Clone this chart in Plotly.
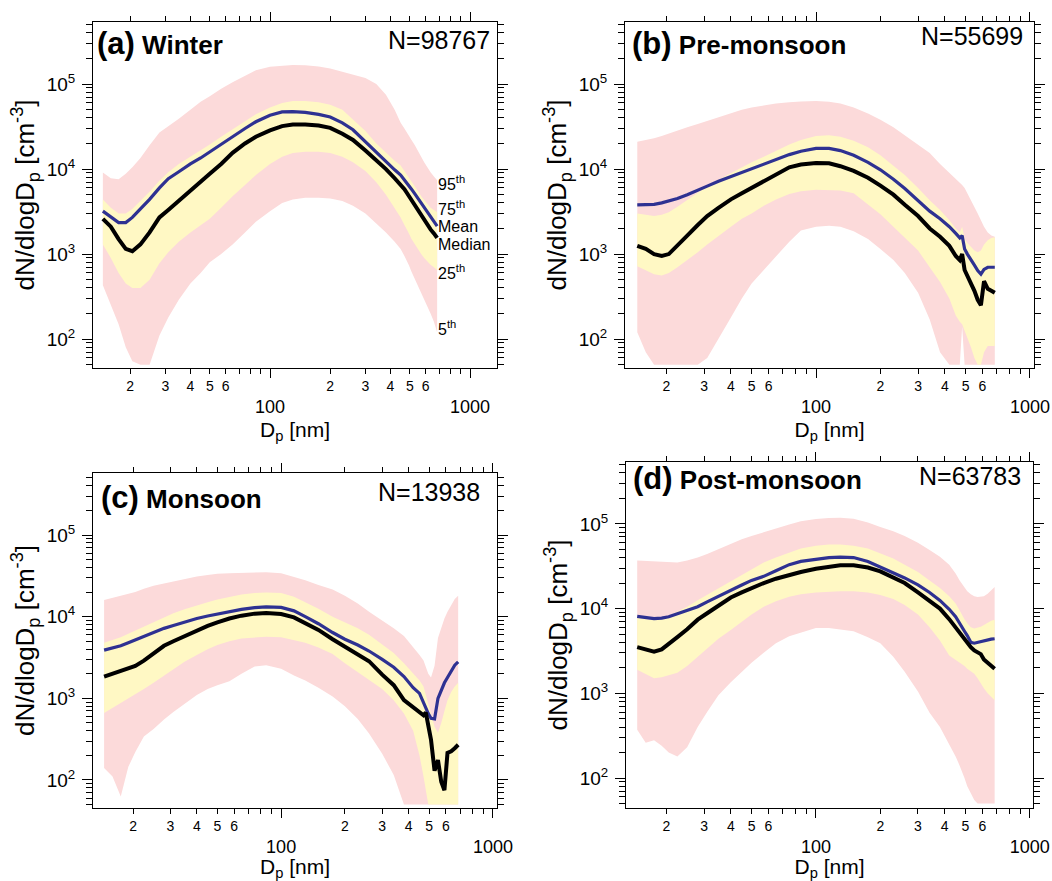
import math
import plotly.graph_objects as go

# ---------------- data ----------------
D_NM = [14.6, 16, 17.5, 19, 20.5, 22.5, 25, 28, 31, 35, 40, 45, 50, 57, 65, 75, 85, 100,
        115, 130, 150, 175, 200, 230, 260, 300, 340, 380, 420, 450, 470, 482, 495, 510,
        530, 550, 570, 590, 610, 635, 660, 685]

# Winter
W_P95 = [9100, 7800, 7600, 8800, 10500, 13500, 19000, 27000, 32000, 39000, 50000, 62000, 72000, 88000,
         105000, 125000, 145000, 160000, 166000, 168000, 166000, 161000, 152000, 140000, 128000, 118000,
         100000, 75000, 50000, 35000, 30000, 27500, 25000, 22000, 19000, 16500, 14000, 12000, 10500, 9200, 8200, 7400]
W_P75 = [4400, 3500, 3000, 3000, 3400, 4200, 5400, 7300, 9200, 11500, 14000, 16500, 19500, 24000, 29500,
         36500, 44000, 53000, 60000, 63000, 63000, 61000, 57000, 50000, 38000, 28000, 20000, 15500, 12500,
         11000, 9500, 8800, 8000, 7100, 6200, 5500, 4800, 4300, 3900, 3500, 3300, 3100]
W_MEAN = [3200, 2700, 2350, 2350, 2700, 3400, 4400, 6000, 7700, 9300, 11500, 13500, 16000, 19500, 24000,
          30000, 36000, 43000, 47000, 47500, 46500, 44000, 41000, 35000, 29000, 21000, 15500, 12000, 9800,
          8500, 7500, 7000, 6400, 5800, 5100, 4500, 4000, 3500, 3100, 2700, 2400, 2130]
W_MED = [2600, 2100, 1500, 1150, 1080, 1300, 1800, 2700, 3300, 4200, 5500, 7000, 8800, 11500, 15500, 20000,
         24000, 28500, 32000, 33500, 33500, 32500, 30500, 26000, 22000, 16500, 12800, 10000, 7800, 6600, 5800,
         5300, 4800, 4300, 3700, 3300, 2900, 2500, 2200, 1950, 1750, 1550]
W_P25 = [1300, 900, 600, 450, 400, 400, 500, 780, 1050, 1400, 1800, 2200, 2600, 3500, 4800, 6500, 8500,
         11500, 14000, 15500, 16000, 16000, 15500, 14000, 12000, 9500, 7000, 5000, 3500, 2700, 2200, 2000,
         1750, 1500, 1300, 1120, 1000, 900, 820, 750, 700, 650]
W_P5 = [430, 250, 150, 80, 55, 50, 50, 110, 180, 290, 450, 600, 800, 1000, 1300, 1800, 2400, 3200, 4000,
        4400, 4600, 4600, 4500, 4200, 3700, 3000, 2300, 1800, 1400, 1150, 950, 850, 740, 620, 510, 420, 360,
        300, 250, 200, 160, 120]

# Pre-monsoon
P_P95 = [21000, 22000, 23000, 24500, 26000, 28500, 31000, 34000, 37000, 41000, 46000, 50000, 53000, 56000,
         59000, 61000, 62500, 63000, 62000, 59000, 53000, 45000, 38000, 31000, 25000, 19500, 15500, 11500,
         9000, 7800, 7000, 6500, 6000, 5200, 4400, 3600, 3000, 2500, 2100, 1800, 1650, 1600]
P_P75 = [3000, 2900, 2800, 2900, 3100, 3600, 4300, 5300, 6300, 7500, 9000, 10500, 12000, 14000, 16500,
         19500, 22000, 24500, 25000, 24000, 21500, 18000, 14500, 11000, 8500, 6000, 4300, 3300, 2500, 2000,
         1800, 2100, 1500, 1350, 1200, 1100, 1050, 1100, 1300, 1450, 1550, 1580]
P_MEAN = [3800, 3800, 3850, 4000, 4200, 4500, 5000, 5700, 6300, 7200, 8200, 9200, 10200, 11500, 13000,
          14800, 16200, 17500, 17500, 16500, 14500, 12000, 9800, 7600, 5900, 4300, 3200, 2600, 2100, 1750,
          1550, 1650, 1150, 1000, 870, 740, 640, 580, 660, 700, 700, 700]
P_MED = [1250, 1150, 1000, 950, 1000, 1250, 1650, 2200, 2800, 3500, 4400, 5200, 6000, 7300, 8800, 10500,
         11300, 11800, 11700, 10800, 9500, 7900, 6400, 5000, 3800, 2800, 2000, 1600, 1250, 950, 850, 1000,
         650, 560, 460, 370, 290, 250, 480, 390, 370, 350]
P_P25 = [720, 650, 580, 560, 600, 700, 850, 1050, 1300, 1650, 2100, 2600, 3000, 3700, 4400, 5100, 5500,
         5700, 5700, 5600, 5200, 3800, 2950, 2100, 1550, 1100, 700, 470, 300, 190, 160, 150, 125, 105, 80,
         60, 50, 50, 70, 83, 83, 83]
P_P5 = [120, 70, 50, 50, 50, 50, 50, 50, 60, 100, 180, 300, 450, 650, 950, 1400, 1900, 2100, 2150, 2100,
        1850, 1500, 1150, 850, 600, 350, 170, 70, 50, 50, 50, 140, 50, 50, 50, 50, 50, 50, 50, 50, 50, 50]

# Monsoon
M_P95 = [16000, 17000, 18000, 19000, 20000, 22000, 24000, 25500, 27000, 29000, 31000, 32500, 33500, 34000,
         34500, 35000, 35000, 34000, 31000, 28000, 24500, 21500, 18000, 14500, 11500, 9000, 7200, 5800, 4300,
         3400, 2900, 2400, 2000, 1800, 2500, 5500, 7500, 9500, 11500, 14000, 16500, 18000]
M_P75 = [4800, 5200, 5600, 6200, 6800, 7600, 8600, 9800, 11000, 12300, 13800, 15000, 16200, 17500, 18700,
         19500, 19800, 19500, 17500, 15000, 12500, 10000, 8500, 7200, 6000, 4600, 3600, 2700, 2000, 1650,
         1400, 1100, 850, 650, 450, 380, 500, 700, 950, 1200, 1400, 1550]
M_MEAN = [3900, 4100, 4400, 4800, 5200, 5800, 6500, 7200, 7800, 8600, 9500, 10200, 10800, 11600, 12300,
          12900, 13200, 13000, 11800, 10000, 8200, 6400, 5300, 4500, 3800, 3000, 2400, 1850, 1350, 1150,
          900, 740, 650, 570, 560, 1000, 1250, 1550, 1800, 2150, 2550, 2800]
M_MED = [1850, 2000, 2200, 2350, 2500, 2900, 3500, 4400, 5000, 5800, 6800, 7700, 8500, 9500, 10300, 10900,
         11100, 10800, 9800, 8300, 6900, 5300, 4300, 3500, 2850, 1950, 1450, 950, 780, 680, 620, 670, 450,
         310, 130, 175, 95, 75, 215, 225, 245, 270]
M_P25 = [660, 760, 880, 980, 1100, 1300, 1550, 1900, 2300, 2800, 3400, 4000, 4500, 5000, 5400, 5600, 5700,
         5600, 5200, 4800, 4200, 3500, 2700, 2100, 1700, 1300, 950, 650, 400, 200, 110, 70, 50, 50, 50, 50,
         50, 50, 50, 50, 50, 50]
M_P5 = [140, 110, 63, 145, 220, 340, 420, 550, 680, 850, 1100, 1300, 1450, 1620, 2000, 2450, 2550, 2300,
        1900, 1650, 1350, 1050, 800, 560, 370, 210, 115, 50, 50, 50, 50, 50, 50, 50, 50, 50, 50, 50, 50, 50,
        50, 50]

# Post-monsoon
Q_P95 = [37000, 36500, 36000, 36000, 35500, 35000, 37000, 40000, 44000, 50000, 58000, 66000, 72000, 80000,
         88000, 98000, 107000, 114000, 117000, 118000, 115000, 104000, 92000, 82000, 72000, 60000, 49000,
         41000, 33000, 26000, 21500, 19500, 17500, 16000, 14800, 14000, 13700, 13800, 14000, 15000, 16500, 18000]
Q_P75 = [7800, 7500, 7400, 7600, 8200, 9200, 10500, 12500, 14500, 17500, 21000, 25000, 29000, 35000, 40000,
         46000, 51000, 55000, 57000, 57000, 55000, 51000, 45000, 39000, 33000, 27000, 21500, 17500, 14000,
         11500, 9500, 8400, 7500, 6700, 6000, 5800, 5900, 6100, 6400, 6800, 7200, 7400]
Q_MEAN = [8100, 7800, 7600, 7700, 8000, 8700, 9500, 10500, 12000, 14000, 16600, 19000, 21500, 24000, 28000,
          33000, 36000, 38500, 40000, 40500, 40000, 36000, 31000, 27000, 23000, 19000, 15500, 12500, 9800,
          8000, 6800, 6000, 5400, 4800, 4000, 3900, 4000, 4100, 4200, 4300, 4350, 4400]
Q_MED = [3500, 3300, 3100, 3300, 3800, 4600, 5700, 7400, 8800, 10800, 13500, 15500, 17500, 20000, 22500,
         25000, 27000, 29500, 31000, 32500, 32500, 30500, 27500, 23500, 20000, 15500, 12500, 10000, 7500,
         6000, 5200, 4700, 4400, 3900, 3500, 3200, 3000, 2900, 2500, 2300, 2100, 1950]
Q_P25 = [1900, 1700, 1500, 1550, 1650, 1750, 2100, 2700, 3400, 4400, 5600, 7000, 8500, 10500, 12200, 13800,
         14800, 15500, 15800, 16000, 16000, 15500, 14500, 13000, 11000, 8500, 6000, 4200, 2800, 2500, 2300,
         2200, 2100, 1950, 1800, 1700, 1500, 1300, 1150, 1000, 900, 830]
Q_P5 = [370, 260, 280, 240, 200, 180, 230, 400, 600, 950, 1350, 1800, 2300, 3000, 3900, 4700, 5200, 5900,
        5900, 5700, 5400, 4600, 3900, 2700, 1800, 1050, 590, 400, 250, 180, 140, 120, 100, 80, 65, 55, 50,
        50, 50, 50, 50, 50]

PANEL_LETTERS = ["(a)", "(b)", "(c)", "(d)"]
SEASONS = ["Winter", "Pre-monsoon", "Monsoon", "Post-monsoon"]
N_COUNTS = ["N=98767", "N=55699", "N=13938", "N=63783"]
PCT_LABELS = ["95<sup>th</sup>", "75<sup>th</sup>", "Mean", "Median", "25<sup>th</sup>", "5<sup>th</sup>"]

X_MAJOR = [100, 1000]
X_MAJOR_TEXT = ["100", "1000"]
X_MINOR = [20, 30, 40, 50, 60, 70, 80, 90, 200, 300, 400, 500, 600, 700, 800, 900]
X_DIGITS = [20, 30, 40, 50, 60, 200, 300, 400, 500, 600]
X_DIGIT_TEXT = ["2", "3", "4", "5", "6", "2", "3", "4", "5", "6"]
Y_MAJOR = [100, 1000, 10000, 100000]
Y_MAJOR_TEXT = ["10<sup>2</sup>", "10<sup>3</sup>", "10<sup>4</sup>", "10<sup>5</sup>"]
Y_MINOR = [k * 10 ** n for n in range(1, 6) for k in range(2, 10)]

# ---------------- styling / layout ----------------
PINK = "#fcdada"
YELLOW = "#fff8c4"
BLUE = "#2e3192"
FONT = "Liberation Sans, Arial, Helvetica, sans-serif"
W, H = 1052, 881

# pixel boxes of the four frames: (left, right, top, bottom)
BOXES = [(93, 497, 22, 368), (625, 1034, 22, 368), (93, 497, 473, 808), (626, 1033, 462, 808)]
XRANGES = [[1.115, 3.135], [1.107, 3.019], [1.112, 3.019], [1.112, 3.015]]
YRANGES = [[1.66, 5.73], [1.66, 5.73], [1.657, 5.76], [1.646, 5.73]]
TITLE_POS = [(0.006, 0.995), (0.012, 0.995), (0.015, 0.985), (0.012, 1.01)]
N_POS = [(0.988, 0.995), (0.978, 1.005), (0.963, 0.99), (0.975, 1.005)]

SERIES = [
    (W_P5, W_P95, W_P25, W_P75, W_MEAN, W_MED),
    (P_P5, P_P95, P_P25, P_P75, P_MEAN, P_MED),
    (M_P5, M_P95, M_P25, M_P75, M_MEAN, M_MED),
    (Q_P5, Q_P95, Q_P25, Q_P75, Q_MEAN, Q_MED),
]

fig = go.Figure()
layout = dict(width=W, height=H, margin=dict(l=0, r=0, t=0, b=0), paper_bgcolor="white",
              plot_bgcolor="white", showlegend=False, hovermode=False,
              font=dict(family=FONT, color="black"))
annotations = []

for i in range(4):
    k = i + 1
    xa = "x" if k == 1 else f"x{k}"
    ya = "y" if k == 1 else f"y{k}"
    xo = f"x{k + 4}"
    p5, p95, p25, p75, mean, med = SERIES[i]
    common = dict(x=D_NM, xaxis=xa, yaxis=ya, mode="lines", hoverinfo="skip", showlegend=False)
    fig.add_trace(go.Scatter(y=p5, line=dict(width=0, color=PINK), **common))
    fig.add_trace(go.Scatter(y=p95, line=dict(width=0, color=PINK), fill="tonexty", fillcolor=PINK, **common))
    fig.add_trace(go.Scatter(y=p25, line=dict(width=0, color=YELLOW), **common))
    fig.add_trace(go.Scatter(y=p75, line=dict(width=0, color=YELLOW), fill="tonexty", fillcolor=YELLOW, **common))
    fig.add_trace(go.Scatter(y=mean, line=dict(width=3.2, color=BLUE), **common))
    fig.add_trace(go.Scatter(y=med, line=dict(width=4, color="black"), **common))
    # dummy trace for the digit-label overlay axis
    fig.add_trace(go.Scatter(x=[], y=[], xaxis=xo, yaxis=ya, showlegend=False, hoverinfo="skip"))

    l, r, t, b = BOXES[i]
    xdom = [l / W, r / W]
    ydom = [1 - b / H, 1 - t / H]
    xkey = "xaxis" if k == 1 else f"xaxis{k}"
    ykey = "yaxis" if k == 1 else f"yaxis{k}"
    layout[xkey] = dict(
        type="log", range=XRANGES[i], domain=xdom, anchor=ya, showline=True, linecolor="black",
        linewidth=1, mirror="ticks", ticks="outside", ticklen=9, tickwidth=1, tickcolor="black",
        tickmode="array", tickvals=X_MAJOR, ticktext=X_MAJOR_TEXT, tickfont=dict(size=18),
        ticklabelstandoff=13,
        minor=dict(tickmode="array", tickvals=X_MINOR, ticks="outside", ticklen=5, tickcolor="black",
                   tickwidth=1, showgrid=False),
        showgrid=False, zeroline=False, automargin=False,
        title=dict(text="D<sub>p</sub> [nm]", font=dict(size=21), standoff=6))
    layout[f"xaxis{k + 4}"] = dict(
        type="log", range=XRANGES[i], overlaying=xa, anchor=ya, side="bottom", showline=False,
        ticks="", tickmode="array", tickvals=X_DIGITS, ticktext=X_DIGIT_TEXT, tickfont=dict(size=14),
        ticklabelstandoff=8, showgrid=False, zeroline=False, automargin=False)
    layout[ykey] = dict(
        type="log", range=YRANGES[i], domain=ydom, anchor=xa, showline=True, linecolor="black",
        linewidth=1, mirror="ticks", ticks="outside", ticklen=10, tickwidth=1, tickcolor="black",
        tickmode="array", tickvals=Y_MAJOR, ticktext=Y_MAJOR_TEXT, tickfont=dict(size=19),
        ticklabelstandoff=3,
        minor=dict(tickmode="array", tickvals=Y_MINOR, ticks="outside", ticklen=6, tickcolor="black",
                   tickwidth=1, showgrid=False),
        showgrid=False, zeroline=False, automargin=False,
        title=dict(text="dN/dlogD<sub>p</sub> [cm<sup>-3</sup>]", font=dict(size=26), standoff=4))

    tx, ty = TITLE_POS[i]
    annotations.append(dict(
        xref=f"{xa} domain", yref=f"{ya} domain", x=tx, y=ty, xanchor="left", yanchor="top",
        showarrow=False, align="left",
        text=f"<b><span style='font-size:31px'>{PANEL_LETTERS[i]}</span> {SEASONS[i]}</b>",
        font=dict(size=26)))
    nx, ny = N_POS[i]
    annotations.append(dict(
        xref=f"{xa} domain", yref=f"{ya} domain", x=nx, y=ny, xanchor="right", yanchor="top",
        showarrow=False, text=N_COUNTS[i], font=dict(size=25)))

# percentile labels at the right end of panel (a)
end_vals = [W_P95[-1], W_P75[-1], W_MEAN[-1], W_MED[-1], W_P25[-1], W_P5[-1]]
shifts = [-3, 4, 0, -7, -2, 4]
for lab, v, s in zip(PCT_LABELS, end_vals, shifts):
    annotations.append(dict(
        xref="x", yref="y", x=math.log10(D_NM[-1]), y=math.log10(v), xanchor="left", yanchor="middle",
        xshift=0, yshift=s, showarrow=False, text=lab, font=dict(size=16), borderpad=0))

layout["annotations"] = annotations
fig.update_layout(**layout)
fig.write_html("out.html", config={"displayModeBar": False},
               post_script="document.body.style.margin='0';document.body.style.padding='0';")
